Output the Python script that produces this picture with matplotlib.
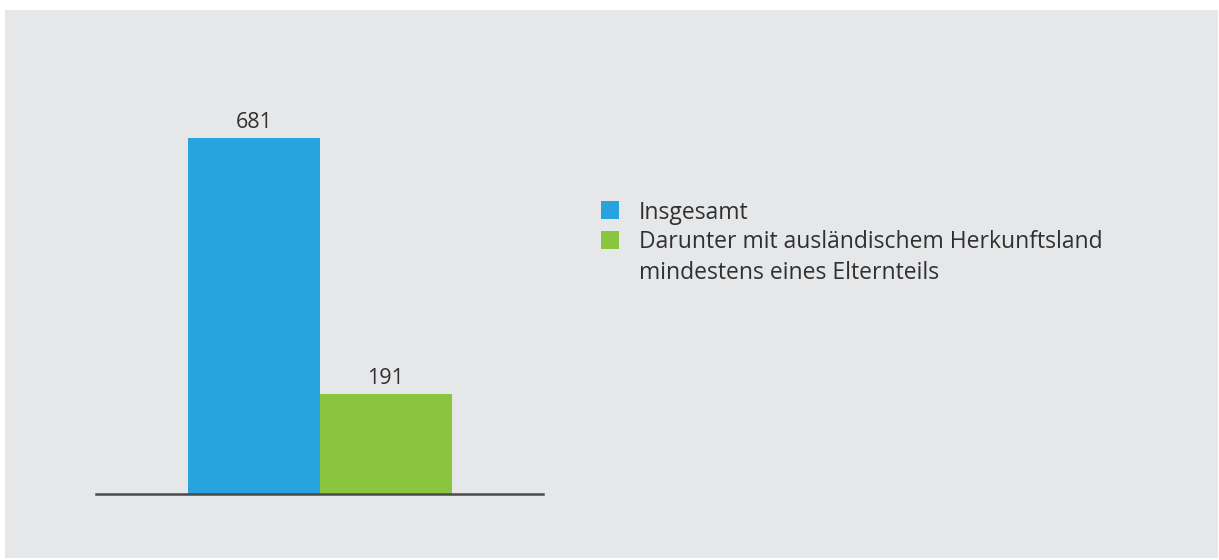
import matplotlib
matplotlib.use('Agg')
import matplotlib.pyplot as plt
from matplotlib.patches import Rectangle

# ── Data ──
categories = ['Insgesamt',
              'Darunter mit ausländischem Herkunftsland\nmindestens eines Elternteils']
values = [681, 191]
colors = ['#29a3dd', '#8bc53f']
BG = '#e6e7e9'
TXT = '#303030'

plt.rcParams['font.family'] = ['Open Sans', 'DejaVu Sans']

fig = plt.figure(figsize=(12.19, 5.6), dpi=100, facecolor='white')
W, H = 1219, 560
fig.patches.append(Rectangle((5 / W, 2 / H), 1213 / W, 548 / H,
                             transform=fig.transFigure, facecolor=BG,
                             edgecolor='none', zorder=-5))

ax = fig.add_axes([96 / W, 66 / H, 447 / W, 418 / H])
ax.set_facecolor('none')
x = list(range(len(values)))
ax.bar(x, values, width=1.0, color=colors, zorder=2)
ax.set_xlim(-1.197, 2.19)
ax.set_ylim(0, 800)

for xi, v in zip(x, values):
    ax.text(xi, v + 9, str(v), ha='center', va='bottom', fontsize=15.5, color=TXT)

for s in ['top', 'right', 'left']:
    ax.spines[s].set_visible(False)
ax.spines['bottom'].set_color('#4a4a4a')
ax.spines['bottom'].set_linewidth(1.8)
ax.set_xticks([]); ax.set_yticks([])

# legend, drawn by hand so the square sits on the first line of each label
y0 = 210
for i, (lab, c) in enumerate(zip(categories, colors)):
    yc = y0 + i * 29.5
    fig.patches.append(Rectangle((601 / W, 1 - (yc + 9) / H), 18 / W, 18 / H,
                                 transform=fig.transFigure, facecolor=c,
                                 edgecolor='none'))
    fig.text(639 / W, 1 - (yc - 9) / H, lab, ha='left', va='top',
             fontsize=16.5, color=TXT, linespacing=1.36)

fig.savefig('out.png', dpi=100, facecolor='white')
